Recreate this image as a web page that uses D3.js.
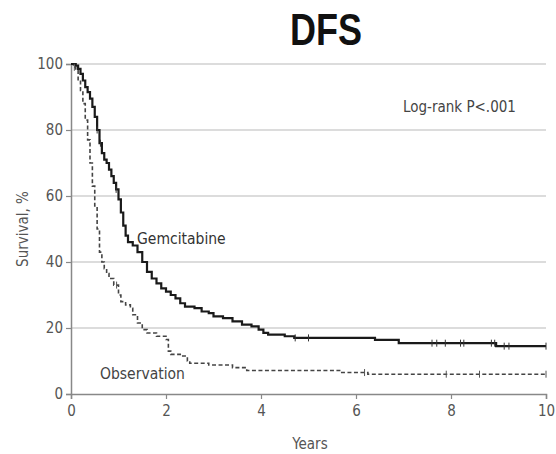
<!DOCTYPE html>
<html>
<head>
<meta charset="utf-8">
<script src="https://cdn.jsdelivr.net/npm/d3@7"></script>
<style>
  body { margin: 0; background: #fff; }
  text { font-family: "DejaVu Sans Condensed", "Liberation Sans Narrow", sans-serif; }
</style>
</head>
<body>
<svg id="chart"></svg>
<script>
// Kaplan-Meier curves (years, survival %)
const gemTimes = [0, 0.05, 0.1, 0.15, 0.2, 0.25, 0.3, 0.35, 0.4, 0.45, 0.5, 0.55, 0.6, 0.65, 0.7, 0.75, 0.8, 0.85, 0.9, 0.95, 1.0, 1.05, 1.1, 1.15, 1.2, 1.3, 1.4, 1.5, 1.6, 1.7, 1.8, 1.9, 2.0, 2.1, 2.2, 2.3, 2.4, 2.6, 2.75, 2.9, 3.0, 3.2, 3.4, 3.6, 3.8, 3.95, 4.05, 4.15, 4.5, 4.7, 6.4, 6.9, 8.95, 10];
const gemSurv = [100, 100, 99.5, 98.5, 97, 95, 93, 91.5, 89.5, 87, 84, 80, 76, 73, 71, 70, 68, 66, 64, 62, 59, 55, 51, 48, 46, 45, 43, 40, 37, 35, 33.5, 32, 31, 30, 29, 27.5, 26.5, 26, 25, 24.5, 23.5, 23, 22, 21, 20.5, 19.5, 18.5, 18, 17.5, 17, 16.4, 15.4, 14.5, 14.5];
const gemCensor = [0.55, 0.62, 0.95, 4.72, 5.0, 7.6, 7.7, 7.88, 8.2, 8.27, 8.85, 8.92, 9.12, 9.22, 10];

const obsTimes = [0, 0.05, 0.1, 0.15, 0.2, 0.25, 0.3, 0.35, 0.4, 0.45, 0.5, 0.55, 0.6, 0.65, 0.7, 0.75, 0.8, 0.9, 1.0, 1.05, 1.15, 1.25, 1.3, 1.4, 1.5, 1.6, 1.8, 2.0, 2.05, 2.1, 2.3, 2.45, 2.5, 2.9, 3.4, 3.7, 5.7, 6.25, 10];
const obsSurv = [100, 99, 98, 95, 92, 88, 83, 77, 70, 63, 57, 50, 43, 40, 38, 36.5, 35, 33, 30, 28, 27, 26, 24, 21.5, 19.5, 18.5, 17.5, 16.5, 13, 12, 11.5, 10, 9.3, 8.8, 8, 7.1, 6.5, 6.0, 6.0];
const obsCensor = [0.07, 0.96, 6.18, 7.9, 8.6, 10];

const xTicks = [0, 2, 4, 6, 8, 10];
const yTicks = [0, 20, 40, 60, 80, 100];

const W = 556, H = 454;
const margin = { top: 64, right: 10, bottom: 60, left: 71 };
const width = 546 - margin.left;
const height = 394 - margin.top;

const svg = d3.select("#chart").attr("width", W).attr("height", H);

// title (narrow bold, squeezed horizontally)
svg.append("text")
  .attr("transform", "translate(326,45) scale(0.8,1)")
  .attr("text-anchor", "middle")
  .style("font-family", "'Liberation Sans', Arial, sans-serif")
  .style("font-weight", "bold")
  .style("font-size", "45px")
  .style("fill", "#111")
  .text("DFS");

const g = svg.append("g").attr("transform", `translate(${margin.left},${margin.top})`);

const x = d3.scaleLinear().domain([0, 10]).range([0, width]);
const y = d3.scaleLinear().domain([0, 100]).range([height, 0]);

// gridlines
g.selectAll(".grid")
  .data(yTicks.filter(d => d > 0))
  .enter().append("line")
  .attr("x1", 0).attr("x2", width)
  .attr("y1", d => y(d)).attr("y2", d => y(d))
  .style("stroke", "#dcdcdc")
  .style("stroke-width", 2);

// axes
const yAxis = g.append("g")
  .call(d3.axisLeft(y).tickValues(yTicks).tickSize(5).tickPadding(3));
const xAxis = g.append("g")
  .attr("transform", `translate(0,${height})`)
  .call(d3.axisBottom(x).tickValues(xTicks).tickSize(5).tickPadding(6));

[xAxis, yAxis].forEach(a => {
  a.select(".domain").style("stroke", "#888").style("stroke-width", 1.5);
  a.selectAll(".tick line").style("stroke", "#888").style("stroke-width", 1.2);
  a.selectAll("text")
    .style("font-size", "15px")
    .style("fill", "#555")
    .style("font-family", "'DejaVu Sans Condensed', sans-serif");
});

// axis labels
svg.append("text")
  .attr("transform", "rotate(-90)")
  .attr("x", -229).attr("y", 28)
  .attr("text-anchor", "middle")
  .style("font-size", "15px")
  .style("fill", "#555")
  .text("Survival, %");

svg.append("text")
  .attr("x", 310).attr("y", 449)
  .attr("text-anchor", "middle")
  .style("font-size", "15px")
  .style("fill", "#555")
  .text("Years");

// curves
const line = d3.line()
  .x(d => x(d[0]))
  .y(d => y(d[1]))
  .curve(d3.curveStepAfter);

const gemData = gemTimes.map((t, i) => [t, gemSurv[i]]);
const obsData = obsTimes.map((t, i) => [t, obsSurv[i]]);

g.append("path")
  .attr("d", line(obsData))
  .style("fill", "none")
  .style("stroke", "#444")
  .style("stroke-width", 1.6)
  .style("stroke-dasharray", "4,2.5");

g.append("path")
  .attr("d", line(gemData))
  .style("fill", "none")
  .style("stroke", "#1a1a1a")
  .style("stroke-width", 2.2);

// censor marks
function survAt(times, surv, t) {
  let s = surv[0];
  for (let i = 0; i < times.length; i++) {
    if (times[i] <= t) s = surv[i];
  }
  return s;
}

g.selectAll(".gemc")
  .data(gemCensor)
  .enter().append("line")
  .attr("x1", d => x(d)).attr("x2", d => x(d))
  .attr("y1", d => y(survAt(gemTimes, gemSurv, d)) - 3.5)
  .attr("y2", d => y(survAt(gemTimes, gemSurv, d)) + 3.5)
  .style("stroke", "#333")
  .style("stroke-width", 1);

g.selectAll(".obsc")
  .data(obsCensor)
  .enter().append("line")
  .attr("x1", d => x(d)).attr("x2", d => x(d))
  .attr("y1", d => y(survAt(obsTimes, obsSurv, d)) - 3.5)
  .attr("y2", d => y(survAt(obsTimes, obsSurv, d)) + 3.5)
  .style("stroke", "#555")
  .style("stroke-width", 1);

// curve labels
svg.append("text")
  .attr("x", 137).attr("y", 244)
  .style("font-size", "15.5px")
  .style("fill", "#333")
  .text("Gemcitabine");

svg.append("text")
  .attr("x", 100).attr("y", 379)
  .style("font-size", "15.5px")
  .style("fill", "#444")
  .text("Observation");

svg.append("text")
  .attr("x", 403).attr("y", 112)
  .style("font-size", "15px")
  .style("fill", "#444")
  .text("Log-rank P<.001");
</script>
</body>
</html>
